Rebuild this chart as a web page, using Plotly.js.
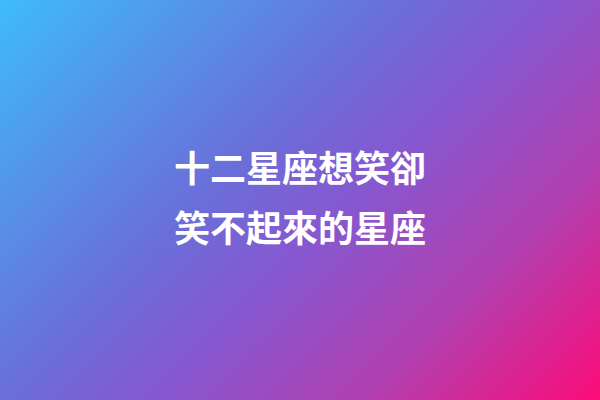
<!DOCTYPE html>
<html>
<head>
<meta charset="utf-8">
<script src="https://cdn.plot.ly/plotly-3.0.1.min.js"></script>
<style>
  html, body { margin: 0; padding: 0; }
  #chart {
    width: 600px;
    height: 400px;
    background: linear-gradient(135deg, #3ebcfa 0%, #6a6ed9 40%, #8658d0 55%, #b040b0 76%, #fc0c78 100%);
  }
</style>
</head>
<body>
<div id="chart"></div>
<script>
const titleLines = ["十二星座想笑卻", "笑不起來的星座"];
const lineY = [0.585, 0.435];

const annotations = titleLines.map((t, i) => ({
  xref: "paper",
  yref: "paper",
  x: 0.5,
  y: lineY[i],
  text: "<b>" + t + "</b>",
  showarrow: false,
  xanchor: "center",
  yanchor: "middle",
  font: { color: "#ffffff", size: 36, family: "Noto Sans CJK TC, Noto Sans CJK SC, sans-serif" },
}));

const layout = {
  width: 600,
  height: 400,
  margin: { t: 0, b: 0, l: 0, r: 0 },
  paper_bgcolor: "rgba(0,0,0,0)",
  plot_bgcolor: "rgba(0,0,0,0)",
  xaxis: { visible: false, range: [0, 1] },
  yaxis: { visible: false, range: [0, 1] },
  annotations,
  showlegend: false,
};

Plotly.newPlot("chart", [], layout, { displayModeBar: false, staticPlot: true });
</script>
</body>
</html>
